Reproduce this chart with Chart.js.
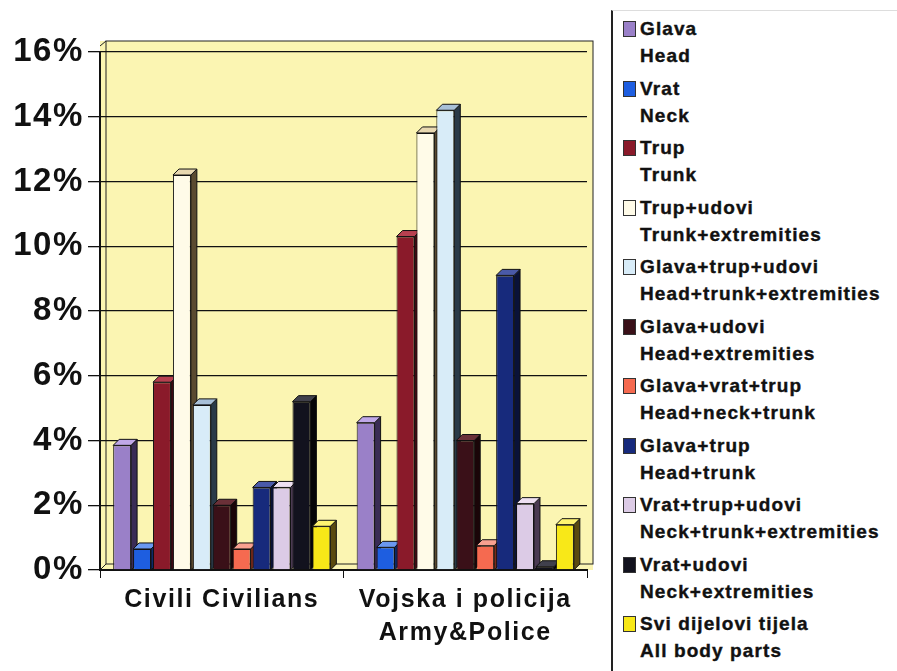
<!DOCTYPE html>
<html>
<head>
<meta charset="utf-8">
<script src="https://cdn.jsdelivr.net/npm/chart.js@4"></script>
<style>
  html, body { margin: 0; padding: 0; background: #fff; }
  body { width: 897px; height: 671px; position: relative; overflow: hidden; font-family: "Liberation Sans", Arial, sans-serif; }
  #wrap { position: absolute; left: 0; top: 0; width: 605px; height: 671px; }
  #legend { position: absolute; left: 611px; top: 10px; width: 286px; height: 661px;
            border-left: 2px solid #222; border-top: 1px solid #ddd; box-sizing: border-box; padding-top: 4px; }
  .item { position: relative; padding-left: 27px; font-weight: bold; font-size: 19px; line-height: 27px; color: #111;
          margin-bottom: 5.5px; white-space: nowrap; letter-spacing: 1.1px; -webkit-text-stroke: 0.4px #111; }
  .box { position: absolute; left: 10px; top: 6px; width: 11px; height: 14px; border: 1px solid #333; }
</style>
</head>
<body>
<div id="wrap"><canvas id="myChart"></canvas></div>
<div id="legend"></div>
<script>
const categories = ['Civili Civilians', ['Vojska i policija', 'Army&Police']]

const seriesHr = ['Glava', 'Vrat', 'Trup', 'Trup+udovi', 'Glava+trup+udovi', 'Glava+udovi',
  'Glava+vrat+trup', 'Glava+trup', 'Vrat+trup+udovi', 'Vrat+udovi', 'Svi dijelovi tijela']
const seriesEn = ['Head', 'Neck', 'Trunk', 'Trunk+extremities', 'Head+trunk+extremities', 'Head+extremities',
  'Head+neck+trunk', 'Head+trunk', 'Neck+trunk+extremities', 'Neck+extremities', 'All body parts']

// percent, one value per series
const civilians = [3.85, 0.65, 5.8, 12.2, 5.1, 2.0, 0.65, 2.55, 2.55, 5.2, 1.35]
const army = [4.55, 0.7, 10.3, 13.5, 14.2, 4.0, 0.75, 9.1, 2.05, 0.1, 1.4]

const yTicks = [0, 2, 4, 6, 8, 10, 12, 14, 16]

const colors = ['#9a80c8', '#1e5ee0', '#8a1a2a', '#fffbe8', '#d8ecf8', '#3a1018',
  '#f56a50', '#172a7c', '#dccbe6', '#12121e', '#f8e818']
const sideColors = ['#3a2c55', '#0c2a6a', '#3e0a12', '#5a4a30', '#2a3a48', '#1a0508',
  '#7a2a1a', '#0a1238', '#4a3a52', '#050508', '#5a4a10']
const topColors = ['#c0a8e8', '#6a98f0', '#b84050', '#e8d8b0', '#a8c0d8', '#6a3038',
  '#f8a090', '#4a5aa8', '#eee0f2', '#40404c', '#fff470']

const DEPTH = 6

const datasets = seriesHr.map((name, i) => ({
  label: name,
  data: [civilians[i], army[i]],
  backgroundColor: colors[i],
  borderColor: '#111',
  borderWidth: 1,
  categoryPercentage: 0.9,
  barPercentage: 0.9
}))

// the scanned labels are wide, so space the canvas text out a bit
const wideText = {
  id: 'wideText',
  beforeUpdate(chart) { chart.ctx.letterSpacing = '1.6px' },
  beforeDraw(chart) { chart.ctx.letterSpacing = '1.6px' }
}

// yellow back wall + fake 3D sides/tops on the bars
const wall3d = {
  id: 'wall3d',
  beforeDraw(chart) {
    const { ctx, chartArea: a } = chart
    ctx.save()
    ctx.fillStyle = '#fbf5b2'
    ctx.fillRect(a.left, a.top - 11, a.right - a.left + DEPTH, a.bottom - a.top + 11)
    ctx.strokeStyle = '#222'
    ctx.lineWidth = 1
    ctx.strokeRect(a.left + DEPTH, a.top - 11, a.right - a.left, a.bottom - a.top + 11 - DEPTH)
    ctx.beginPath()
    ctx.moveTo(a.left, a.top - 6)
    ctx.lineTo(a.left + DEPTH, a.top - 11)
    ctx.moveTo(a.left + DEPTH, a.bottom - DEPTH)
    ctx.lineTo(a.left, a.bottom)
    ctx.stroke()
    ctx.restore()
  },
  beforeDatasetsDraw(chart) {
    const ctx = chart.ctx
    const base = chart.scales.y.getPixelForValue(0)
    ctx.save()
    ctx.lineWidth = 1
    ctx.strokeStyle = '#111'
    chart.data.datasets.forEach((ds, i) => {
      chart.getDatasetMeta(i).data.forEach(bar => {
        const l = bar.x - bar.width / 2
        const r = bar.x + bar.width / 2
        const t = bar.y
        ctx.fillStyle = sideColors[i]
        ctx.beginPath()
        ctx.moveTo(r, t)
        ctx.lineTo(r + DEPTH, t - DEPTH)
        ctx.lineTo(r + DEPTH, base - DEPTH)
        ctx.lineTo(r, base)
        ctx.closePath()
        ctx.fill()
        ctx.stroke()
        ctx.fillStyle = topColors[i]
        ctx.beginPath()
        ctx.moveTo(l, t)
        ctx.lineTo(l + DEPTH, t - DEPTH)
        ctx.lineTo(r + DEPTH, t - DEPTH)
        ctx.lineTo(r, t)
        ctx.closePath()
        ctx.fill()
        ctx.stroke()
      })
    })
    ctx.restore()
  }
}

const config = {
  type: 'bar',
  data: { labels: categories, datasets: datasets },
  options: {
    responsive: true,
    maintainAspectRatio: false,
    animation: false,
    layout: { padding: { top: 52, right: 18, left: 0, bottom: 0 } },
    plugins: { legend: { display: false }, tooltip: { enabled: false } },
    scales: {
      x: {
        grid: { display: true, drawOnChartArea: false, drawTicks: true, tickLength: 8, color: '#111', offset: true },
        border: { display: true, color: '#111', width: 2 },
        ticks: { color: '#111', padding: 6, font: { family: 'Liberation Sans', size: 25, weight: 'bold', lineHeight: 1.32 } },
        afterFit: s => { s.height = 101 }
      },
      y: {
        min: 0,
        max: 16,
        afterBuildTicks: s => { s.ticks = yTicks.map(v => ({ value: v })) },
        grid: { color: '#111', lineWidth: 1.3, tickLength: 12, drawTicks: true },
        border: { display: true, color: '#111', width: 2 },
        ticks: {
          color: '#111',
          padding: 4,
          font: { family: 'Liberation Sans', size: 33, weight: 'bold' },
          callback: v => v + '%'
        },
        afterFit: s => { s.width = 100 }
      }
    }
  },
  plugins: [wideText, wall3d]
}

const myChart = new Chart(document.getElementById('myChart'), config)

// html legend, two lines per series
const legend = document.getElementById('legend')
myChart.data.datasets.forEach((ds, i) => {
  const item = document.createElement('div')
  item.className = 'item'
  const box = document.createElement('span')
  box.className = 'box'
  box.style.background = ds.backgroundColor
  item.appendChild(box)
  item.appendChild(document.createTextNode(seriesHr[i]))
  item.appendChild(document.createElement('br'))
  item.appendChild(document.createTextNode(seriesEn[i]))
  legend.appendChild(item)
})
</script>
</body>
</html>
